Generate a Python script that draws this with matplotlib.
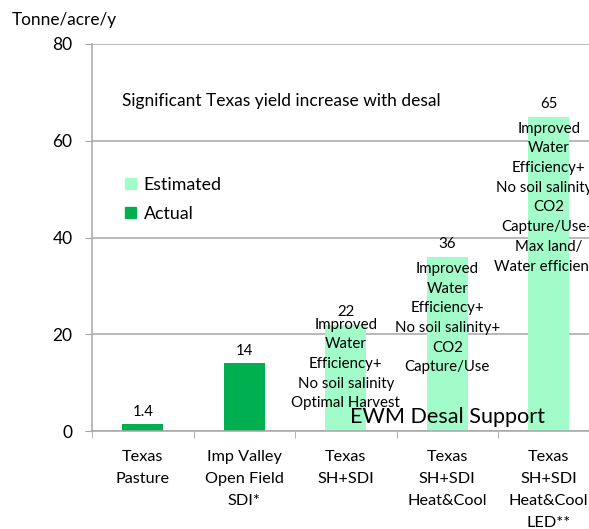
import matplotlib
matplotlib.use("Agg")
import matplotlib.pyplot as plt
from matplotlib.patches import Patch

plt.rcParams['font.family'] = ['Lato', 'DejaVu Sans']

categories = ["Texas\nPasture", "Imp Valley\nOpen Field\nSDI*", "Texas\nSH+SDI",
              "Texas\nSH+SDI\nHeat&Cool", "Texas\nSH+SDI\nHeat&Cool\nLED**"]
values = [1.4, 14, 22, 36, 65]
value_labels = ["1.4", "14", "22", "36", "65"]
kinds = ["Actual", "Actual", "Estimated", "Estimated", "Estimated"]
notes = ["", "",
         "Improved\nWater\nEfficiency+\nNo soil salinity\nOptimal Harvest",
         "Improved\nWater\nEfficiency+\nNo soil salinity+\nCO2\nCapture/Use",
         "Improved\nWater\nEfficiency+\nNo soil salinity+\nCO2\nCapture/Use+\nMax land/\nWater efficiency"]
note_offsets = [0, 0, 7, -5, -5]  # px relative to bar top
yticks = [0, 20, 40, 60, 80]

colors = {"Actual": "#00B050", "Estimated": "#A2FCCA"}
grid_c = "#A6A6A6"

fig = plt.figure(figsize=(5.89, 5.29), dpi=100)
ax = fig.add_axes([92/589, 1-431/529, 507.5/589, 387/529])

x = list(range(len(categories)))
ax.bar(x, values, width=0.4, color=[colors[k] for k in kinds], zorder=2)

ax.set_xlim(-0.5, len(categories) - 0.5)
ax.set_ylim(0, 80)
ax.set_yticks(yticks)
ax.set_yticklabels([str(t) for t in yticks], fontsize=12.5)
ax.yaxis.grid(True, color=grid_c, linewidth=1.1, zorder=0)
ax.set_axisbelow(True)
ax.tick_params(axis='y', length=5, color=grid_c, pad=9)

ax.set_xticks(x)
ax.set_xticklabels(categories, fontsize=11.7, linespacing=1.72)
ax.tick_params(axis='x', which='major', length=0, pad=13.5)
ax.set_xticks([i - 0.5 for i in range(len(categories) + 1)], minor=True)
ax.tick_params(axis='x', which='minor', length=5, color=grid_c)

for s in ['top', 'right']:
    ax.spines[s].set_visible(False)
for s in ['left', 'bottom']:
    ax.spines[s].set_color(grid_c)
    ax.spines[s].set_linewidth(1.1)

for xi, v, lab in zip(x, values, value_labels):
    ax.annotate(lab, xy=(xi, v), xytext=(0, 4), textcoords='offset points',
                ha='center', va='bottom', fontsize=10.8, zorder=3)

for xi, v, n, off in zip(x, values, notes, note_offsets):
    if n:
        ax.annotate(n, xy=(xi, v), xytext=(0, off * 0.72), textcoords='offset points',
                    ha='center', va='top', fontsize=10.8, linespacing=1.52, zorder=3)

ax.annotate("EWM Desal Support", xy=(3, 0), xytext=(0, 10), textcoords='offset points',
            ha='center', va='center', fontsize=15.6, zorder=3)

ax.text(30/507.5, (431-101)/387, "Significant Texas yield increase with desal",
        transform=ax.transAxes, ha='left', va='center', fontsize=12.5)

handles = [Patch(color=colors["Estimated"], label="Estimated"),
           Patch(color=colors["Actual"], label="Actual")]
ax.legend(handles=handles, loc='upper left', bbox_to_anchor=(33/507.5, (431-177)/387),
          frameon=False, fontsize=12.8, handlelength=0.6, handleheight=0.6,
          handletextpad=0.45, labelspacing=0.72, borderpad=0, borderaxespad=0)

fig.text(12/589, 1-20/529, "Tonne/acre/y", ha='left', va='center', fontsize=12.4)

fig.savefig("out.png", dpi=100)
